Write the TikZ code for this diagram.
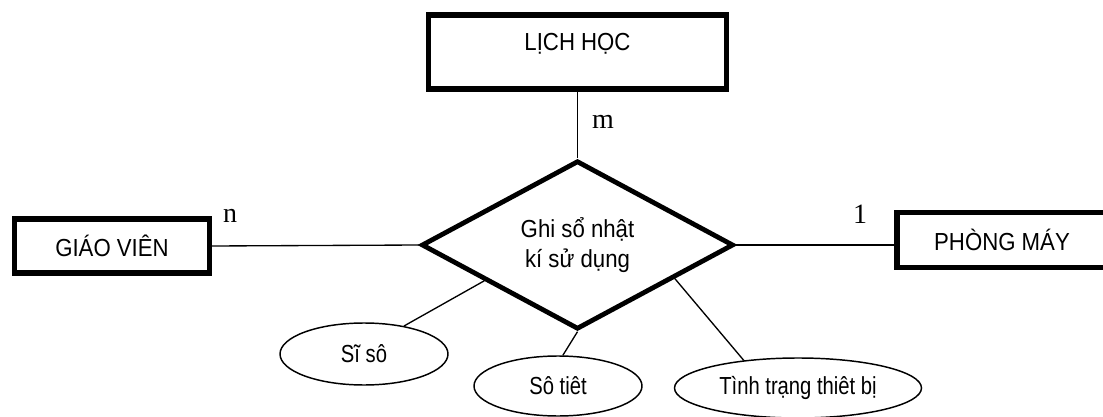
\documentclass[tikz,border=0pt]{standalone}
\usepackage{fontspec}
\setmainfont{Liberation Sans}
\newfontfamily\cardfont{Liberation Serif}
\newfontfamily\boxfont[FakeStretch=0.9]{Liberation Sans}
\newfontfamily\attrfont[FakeStretch=0.82]{Liberation Sans}
\usetikzlibrary{shapes.geometric}

\tikzset{
  entity/.style={draw, line width=4pt, inner sep=0pt,
    font=\boxfont\fontsize{18.5}{20}\selectfont},
  relation/.style={draw, diamond, line width=3.6pt, inner sep=0pt, align=center,
    font=\boxfont\fontsize{18.5}{22.5}\selectfont},
  attribute/.style={draw, ellipse, line width=1.1pt, inner sep=0pt,
    font=\attrfont\fontsize{18.5}{20}\selectfont},
  card/.style={font=\cardfont\fontsize{21}{24}\selectfont},
}

\begin{document}
\begin{tikzpicture}[x=0.75pt, y=-0.75pt]
      \clip (0,0) rectangle (1103,417);
      % entities and the relationship
      \draw
        (577.5,52) node[entity, minimum width=223.5pt, minimum height=55.5pt,
          text height=12pt, text depth=14pt] (lich){LỊCH HỌC}
        (112,246) node[entity, minimum width=146.25pt, minimum height=40.5pt] (gv){GIÁO VIÊN}
        (1002,240) node[entity, minimum width=157.5pt, minimum height=41.25pt] (pm){PHÒNG MÁY}
        (577.5,245) node[relation, minimum width=234pt, minimum height=113.25pt] (rel){Ghi sổ nhật\\kí sử dụng};
      % attributes
      \draw
        (364,354) node[attribute, minimum width=126pt, minimum height=46.5pt] (siso){Sĩ sô}
        (558,386) node[attribute, minimum width=126pt, minimum height=45pt] (sotiet){Sô tiêt}
        (798,388) node[attribute, minimum width=185.25pt, minimum height=45pt] (tinh){Tình trạng thiêt bị};
      % cardinalities
      \draw
        (603,122) node[card] (m){m}
        (230,216) node[card] (n){n}
        (860,214) node[card] (one){1};
      \begin{scope}[-, line width=1pt]
        \draw (lich.south) to (rel.north);
        \draw (gv.east) to (rel.west);
        \draw (rel.east) to (rel.east -| pm.west);
        \draw (rel.201) to (siso.35);
        \draw (rel.south) to (sotiet.81);
        \draw (rel.-19) to (tinh.153);
      \end{scope}
    \end{tikzpicture}
\end{document}
